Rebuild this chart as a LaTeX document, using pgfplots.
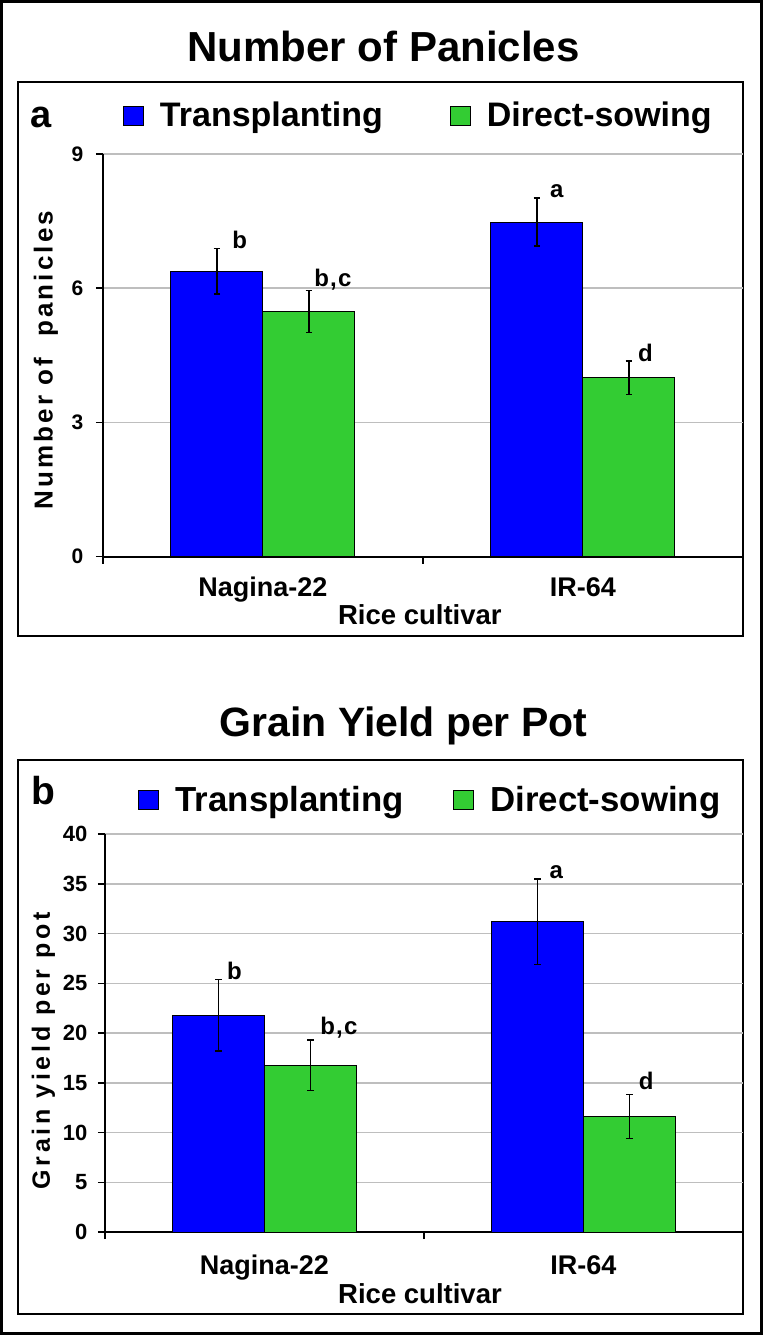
\documentclass[border=0pt]{standalone}
\usepackage{fontspec}
\setmainfont{Liberation Sans}
\usepackage{pgfplots}
\pgfplotsset{compat=1.18}

\definecolor{tblue}{RGB}{0,0,255}
\definecolor{dgreen}{RGB}{51,204,51}
\definecolor{gridgray}{RGB}{190,190,190}

% shared look of both panels
\pgfplotsset{
  riceaxis/.style={
    scale only axis,
    ybar, bar width=0.2876,
    xmin=0.5, xmax=2.5,
    clip=false,
    axis x line*=bottom, axis y line*=left,
    axis line style={black, line width=1pt, -},
    xtick={1,2}, xticklabels={Nagina-22,IR-64},
    minor xtick={0.5,1.5,2.5},
    major x tick style={draw=none},
    minor x tick style={black, line width=0.75pt},
    major y tick style={black, line width=0.75pt},
    minor tick length=3.5pt, major tick length=3.5pt,
    tick align=outside,
    ymajorgrids,
    major grid style={gridgray, line width=0.75pt},
    /pgf/number format/assume math mode=true,
    xticklabel style={font=\bfseries\fontsize{13.5}{16}\selectfont, anchor=base, yshift=-16.5pt},
    xlabel={Rice cultivar},
    xlabel style={font=\bfseries\fontsize{13.75}{16}\selectfont, at={(axis description cs:0.5,0)}, anchor=base, yshift=-34pt, xshift=-1.5pt},
    legend columns=2,
    legend style={draw=none, fill=none, inner sep=0pt, outer sep=0pt, anchor=north west,
      nodes={inner sep=0pt}},
    legend cell align=left,
    error bars/error mark=-,
    error bars/error bar style={line width=0.75pt, black},
    error bars/error mark options={rotate=90, line width=0.75pt, mark size=1.6pt, black},
  },
  sqlegend/.style={legend image code/.code={\draw[##1, line width=0.5pt] (0pt,-4.75pt) rectangle (10pt,4.75pt);}},
}
\tikzset{
  letters/.style={anchor=base west, inner sep=0pt, font=\bfseries\fontsize{12}{14}\selectfont\addfontfeature{LetterSpace=5}},
}

\begin{document}
\begin{tikzpicture}
% outer frame and panel frames
\draw[line width=1.75pt] (0.875pt,0.875pt) rectangle (380.625pt,666.625pt);
\draw[line width=1pt] (9pt,349.5pt) rectangle (371.5pt,626.5pt);
\draw[line width=1pt] (9pt,10.5pt) rectangle (371.5pt,287.5pt);

% ---------- panel a ----------
\node[anchor=base, font=\bfseries\fontsize{21}{25}\selectfont] at (191.75pt,636.5pt) {Number of Panicles};
\node[anchor=base west, inner sep=0pt, font=\bfseries\fontsize{19}{23}\selectfont] at (15.25pt,603.5pt) {a};
\begin{axis}[riceaxis,
    at={(51.5pt,389.15pt)}, anchor=south west,
    width=319.85pt, height=201.35pt,
    ymin=0, ymax=9, ytick={0,3,6,9},
    yticklabel style={font=\bfseries\fontsize{10.5}{12}\selectfont, xshift=-2.8pt},
    ylabel={Number of\ \ panicles},
    ylabel style={font=\bfseries\fontsize{13}{15}\selectfont\addfontfeature{LetterSpace=12},
      at={(axis description cs:-0.0891,0.4885)}, anchor=center},
    legend style={at={(axis description cs:0.03127,1.1286)},
      /tikz/every odd column/.append style={column sep=8pt},
      /tikz/every even column/.append style={column sep=33.5pt},
      font=\bfseries\fontsize{17}{20}\selectfont},
  ]
  \addplot[sqlegend, fill=tblue, draw=black, line width=0.5pt, bar shift=-0.1438,
    error bars/.cd, y dir=both, y explicit]
    coordinates {(1,6.38) +- (0,0.51) (2,7.48) +- (0,0.54)};
  \addlegendentry{Transplanting}
  \addplot[sqlegend, fill=dgreen, draw=black, line width=0.5pt, bar shift=0.1438,
    error bars/.cd, y dir=both, y explicit]
    coordinates {(1,5.48) +- (0,0.47) (2,4.0) +- (0,0.37)};
  \addlegendentry{Direct-sowing}
  \node[letters, xshift=7.5pt] at (axis cs:0.8562,6.89) {b};
  \node[letters, xshift=2.5pt, yshift=2pt] at (axis cs:1.1438,5.95) {b,c};
  \node[letters, xshift=6.5pt] at (axis cs:1.8562,8.02) {a};
  \node[letters, xshift=4.5pt] at (axis cs:2.1438,4.37) {d};
\end{axis}

% ---------- panel b ----------
\node[anchor=base, font=\bfseries\fontsize{20.5}{25}\selectfont] at (201.75pt,299pt) {Grain Yield per Pot};
\node[anchor=base west, inner sep=0pt, font=\bfseries\fontsize{19.5}{23}\selectfont] at (15.75pt,265pt) {b};
\begin{axis}[riceaxis,
    at={(52.5pt,51.5pt)}, anchor=south west,
    width=319pt, height=199pt,
    ymin=0, ymax=40, ytick={0,5,...,40},
    yticklabel style={font=\bfseries\fontsize{11}{13}\selectfont, xshift=-1.8pt},
    ylabel={Grain yield per pot},
    ylabel style={font=\bfseries\fontsize{12.5}{15}\selectfont\addfontfeature{LetterSpace=15},
      at={(axis description cs:-0.0967,0.4548)}, anchor=center},
    xticklabel style={yshift=-1pt},
    xlabel style={yshift=-1.5pt, xshift=-0.5pt},
    legend style={at={(axis description cs:0.05172,1.1198)},
      /tikz/every odd column/.append style={column sep=8.3pt},
      /tikz/every even column/.append style={column sep=24.5pt},
      font=\bfseries\fontsize{17.4}{20}\selectfont},
  ]
  \addplot[sqlegend, fill=tblue, draw=black, line width=0.5pt, bar shift=-0.1438,
    error bars/.cd, y dir=both, y explicit]
    coordinates {(1,21.8) +- (0,3.6) (2,31.2) +- (0,4.3)};
  \addlegendentry{Transplanting}
  \addplot[sqlegend, fill=dgreen, draw=black, line width=0.5pt, bar shift=0.1438,
    error bars/.cd, y dir=both, y explicit]
    coordinates {(1,16.75) +- (0,2.55) (2,11.6) +- (0,2.2)};
  \addlegendentry{Direct-sowing}
  \node[letters, xshift=4pt] at (axis cs:0.8562,25.4) {b};
  \node[letters, xshift=4.8pt, yshift=2.8pt] at (axis cs:1.1438,19.3) {b,c};
  \node[letters, xshift=5.8pt] at (axis cs:1.8562,35.5) {a};
  \node[letters, xshift=4.5pt, yshift=2.8pt] at (axis cs:2.1438,13.8) {d};
\end{axis}

\pgfresetboundingbox
\useasboundingbox (0pt,0pt) rectangle (381.5pt,667.5pt);
\end{tikzpicture}
\end{document}
